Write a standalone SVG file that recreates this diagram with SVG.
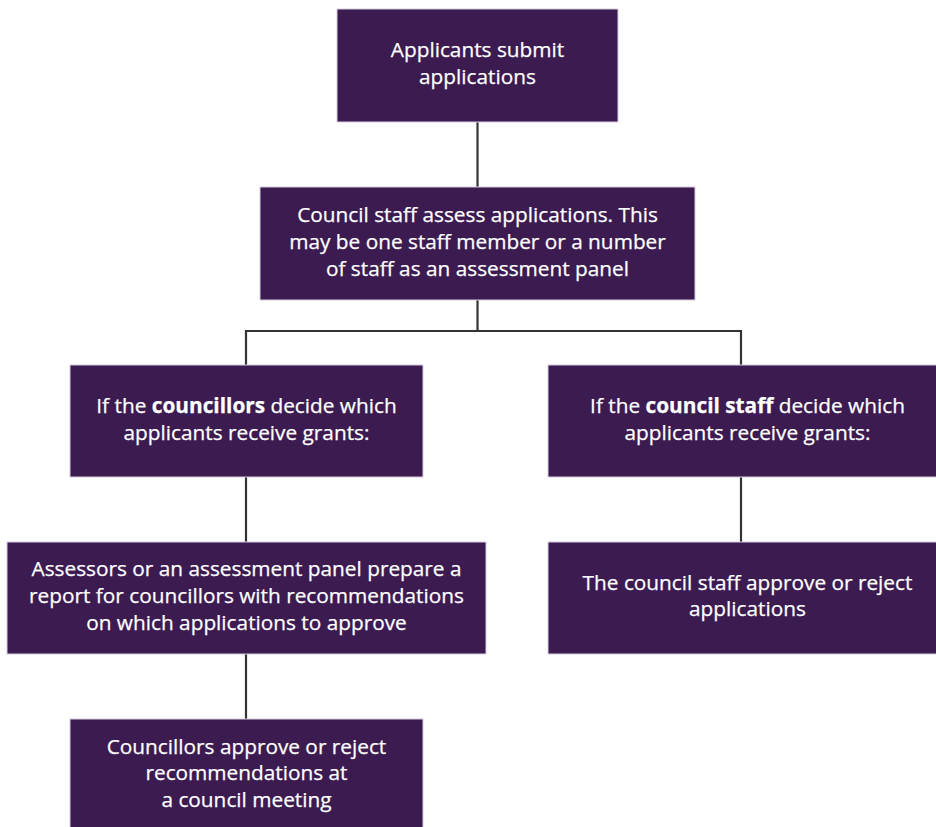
<svg xmlns="http://www.w3.org/2000/svg" width="936" height="827" viewBox="0 0 936 827">
<style>
.box{fill:#3c1b51;stroke:#d8cce2;stroke-width:1}
.t{font-family:"Open Sans","Noto Sans","Liberation Sans",sans-serif;font-size:20.8px;fill:#ffffff;stroke:#ffffff;stroke-width:0.25;text-anchor:middle}
.b{font-weight:bold}
.c{fill:none;stroke:#333333;stroke-width:2.2}
</style>
<rect width="936" height="827" fill="#ffffff"/>
<g id="connectors">
<path class="c" d="M477.5 122 V187"/>
<path class="c" d="M477.5 300 V331 M246 331 H741 M246 330 V365 M741 330 V365"/>
<path class="c" d="M246 477 V542"/>
<path class="c" d="M741 477 V542"/>
<path class="c" d="M246 654 V719"/>
</g>
<g id="n1"><rect class="box" x="337" y="9" width="281" height="113"/>
<text class="t" x="477.5" y="57">Applicants submit</text>
<text class="t" x="477.5" y="84">applications</text></g>
<g id="n2"><rect class="box" x="260" y="187" width="435" height="113"/>
<text class="t" x="477.5" y="222">Council staff assess applications. This</text>
<text class="t" x="477.5" y="249">may be one staff member or a number</text>
<text class="t" x="477.5" y="276">of staff as an assessment panel</text></g>
<g id="n3"><rect class="box" x="70" y="365" width="353" height="112"/>
<text class="t" x="246.5" y="413">If the <tspan class="b">councillors</tspan> decide which</text>
<text class="t" x="246.5" y="440">applicants receive grants:</text></g>
<g id="n4"><rect class="box" x="548" y="365" width="398" height="112"/>
<text class="t" x="747.5" y="413">If the <tspan class="b">council staff</tspan> decide which</text>
<text class="t" x="747.5" y="440">applicants receive grants:</text></g>
<g id="n5"><rect class="box" x="7" y="542" width="479" height="112"/>
<text class="t" x="246.5" y="576">Assessors or an assessment panel prepare a</text>
<text class="t" x="246.5" y="603">report for councillors with recommendations</text>
<text class="t" x="246.5" y="630">on which applications to approve</text></g>
<g id="n6"><rect class="box" x="548" y="542" width="398" height="112"/>
<text class="t" x="747.5" y="590">The council staff approve or reject</text>
<text class="t" x="747.5" y="616">applications</text></g>
<g id="n7"><rect class="box" x="70" y="719" width="353" height="116"/>
<text class="t" x="246.5" y="754">Councillors approve or reject</text>
<text class="t" x="246.5" y="780">recommendations at</text>
<text class="t" x="246.5" y="807">a council meeting</text></g>
</svg>
